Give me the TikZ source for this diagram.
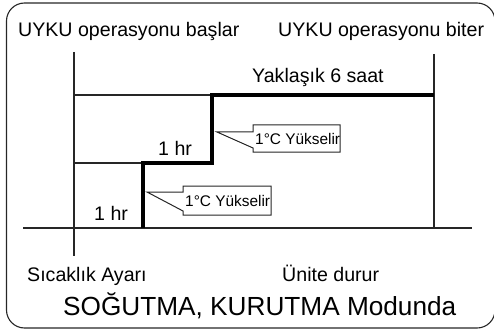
\documentclass[tikz,border=0pt]{standalone}
\usepackage{fontspec}
\setmainfont{Liberation Sans}
\usetikzlibrary{positioning}

\begin{document}
\begin{tikzpicture}[x=1pt,y=-1pt,
label/.style={anchor=base west, inner sep=0pt, font=\fontsize{19.6}{20}\selectfont},
title/.style={anchor=base west, inner sep=0pt, font=\fontsize{26.2}{27}\selectfont},
thinline/.style={line width=1.1pt, black!85},
thickline/.style={line width=3.4pt, black},
calloutbox/.style={line width=1pt, black!85, fill=white},
callouttext/.style={anchor=west, inner sep=0pt, font=\fontsize{15.4}{16}\selectfont},
]
\useasboundingbox (0,0) rectangle (494,331);
\draw[line width=1.1pt, black!85, rounded corners=18] (6.5,3) rectangle (495,328);

% axis and markers
\coordinate (axisL)   at (23,228);
\coordinate (axisR)   at (472,228);
\coordinate (startT)  at (74,52);
\coordinate (startB)  at (74,256);
\coordinate (endT)    at (434,54);
\coordinate (endB)    at (434,228);
\coordinate (lvl1)    at (74,163);
\coordinate (lvl2)    at (74,95);
\coordinate (step1B)  at (143,228);
\coordinate (step1T)  at (143,163);
\coordinate (step2B)  at (212,163);
\coordinate (step2T)  at (212,95);
\coordinate (lvlEnd)  at (434,95);

\draw[thinline] (axisL) -- (axisR);
\draw[thinline] (startT) -- (startB);
\draw[thinline] (endT) -- (endB);
\draw[thinline] (lvl1) -- (step1T);
\draw[thinline] (lvl2) -- (step2T);
\draw[thickline] (step1B) -- (step1T) -- (step2B) -- (step2T) -- (lvlEnd);

% labels
\node[label] (begin)   at (18,37)   {UYKU operasyonu başlar};
\node[label] (finish)  at (278,37)  {UYKU operasyonu biter};
\node[label] (approx)  at (252,83)  {Yaklaşık 6 saat};
\node[label] (hrB)     at (158,155) {1 hr};
\node[label] (hrA)     at (94,220)  {1 hr};
\node[label] (setpt)   at (27,281)  {Sıcaklık Ayarı};
\node[label] (stops)   at (282,281) {Ünite durur};
\node[title] (mode)    at (63,315)  {SOĞUTMA, KURUTMA Modunda};

% callouts
\draw[calloutbox] (183,186) -- (271,186) -- (271,215) -- (183,215) -- (183,211)
  -- (147,192) -- (183,192) -- cycle;
\node[callouttext] (riseA) at (185,200.5) {1°C Yükselir};
\draw[calloutbox] (253,125) -- (340,125) -- (340,152) -- (253,152) -- (253,148)
  -- (217,132) -- (253,132) -- cycle;
\node[callouttext] (riseB) at (255,138.5) {1°C Yükselir};
\end{tikzpicture}
\end{document}
